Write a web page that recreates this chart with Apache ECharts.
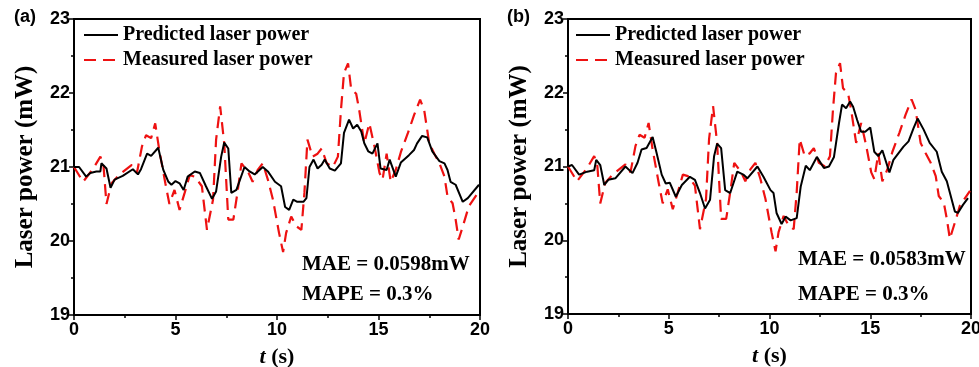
<!DOCTYPE html>
<html><head><meta charset="utf-8">
<script src="https://cdn.jsdelivr.net/npm/echarts@6/dist/echarts.min.js"></script>
<style>html,body{margin:0;padding:0;background:#fff}#c{width:979px;height:367px}</style>
</head><body><div id="c"></div>
<script>
// ---- data ----
var yTicks = [19, 20, 21, 22, 23];
var xTicks = [0, 5, 10, 15, 20];
var measuredT = [0,0.45,0.95,1.3,1.45,1.6,1.85,2.25,2.85,3.1,3.35,3.55,3.8,4.0,4.2,4.5,4.7,4.95,5.2,5.45,5.7,5.95,6.3,6.55,6.85,7.0,7.2,7.4,7.6,7.85,8.05,8.25,8.6,8.8,9.05,9.3,9.55,9.8,10.1,10.3,10.45,10.7,10.95,11.2,11.35,11.5,11.75,12.0,12.2,12.45,12.75,13.0,13.15,13.3,13.5,13.65,13.9,14.05,14.3,14.55,14.8,15.05,15.2,15.4,15.6,15.85,16.1,16.45,16.75,17.05,17.25,17.5,17.75,18.0,18.25,18.4,18.65,18.8,18.95,19.2,19.45,19.95];
var measuredP = [21.0,20.8,20.98,21.14,21.03,20.5,20.78,20.9,21.03,20.92,21.28,21.43,21.39,21.59,21.23,20.78,20.5,20.69,20.42,20.65,20.89,20.87,20.74,20.15,20.56,21.37,21.82,21.32,20.29,20.29,20.65,21.05,20.92,20.8,20.96,21.05,20.83,20.56,20.11,19.85,20.11,20.33,20.2,20.15,20.65,21.37,21.14,21.18,21.25,21.05,21.0,21.14,21.77,22.27,22.4,22.06,21.99,21.77,21.32,21.59,21.28,20.92,20.83,21.18,20.8,20.96,21.2,21.46,21.7,21.91,21.77,21.32,21.18,21.05,20.87,20.6,20.51,20.29,20.02,20.24,20.47,20.67];
var predAT = [0,0.25,0.6,0.8,1.1,1.3,1.35,1.6,1.8,2.0,2.4,2.9,3.15,3.3,3.6,3.8,4.15,4.4,4.65,4.8,5.0,5.2,5.4,5.6,5.95,6.2,6.5,6.8,7.0,7.25,7.4,7.6,7.75,8.0,8.4,8.65,8.9,9.3,9.55,9.9,10.2,10.4,10.6,10.8,11.0,11.3,11.45,11.6,11.8,12.0,12.2,12.35,12.6,12.85,13.15,13.3,13.55,13.75,13.95,14.15,14.3,14.5,14.7,14.95,15.1,15.4,15.55,15.85,16.1,16.5,16.75,16.9,17.15,17.4,17.65,18.0,18.25,18.4,18.55,18.8,19.15,19.4,19.95];
var predAP = [21.0,21.0,20.87,20.92,20.94,20.94,21.05,20.98,20.72,20.83,20.88,20.97,20.9,20.97,21.18,21.15,21.26,20.96,20.8,20.76,20.81,20.78,20.69,20.87,20.94,20.92,20.74,20.57,20.67,21.14,21.33,21.25,20.65,20.69,21.0,20.94,20.9,21.0,20.94,20.8,20.74,20.46,20.42,20.56,20.53,20.53,20.58,21.0,21.1,20.98,21.03,21.1,20.98,20.95,21.05,21.46,21.64,21.52,21.57,21.48,21.32,21.21,21.18,21.32,20.98,20.96,21.1,20.87,21.06,21.16,21.23,21.32,21.42,21.4,21.21,21.08,21.05,20.96,20.8,20.76,20.53,20.58,20.76];
var predBT = [0,0.2,0.55,0.95,1.3,1.4,1.6,1.8,2.0,2.35,2.85,3.2,3.45,3.65,3.9,4.2,4.4,4.65,4.85,5.05,5.35,5.65,6.05,6.3,6.55,6.8,7.05,7.25,7.4,7.6,7.8,8.05,8.4,8.7,8.9,9.4,9.7,10.05,10.2,10.35,10.6,10.8,11.05,11.35,11.55,11.8,12.0,12.35,12.7,12.95,13.2,13.45,13.6,13.8,14.0,14.15,14.35,14.55,14.75,15.0,15.2,15.4,15.6,15.95,16.15,16.65,16.9,17.15,17.35,17.65,17.95,18.3,18.55,18.8,19.2,19.35,19.6,19.85];
var predBP = [21.0,21.02,20.89,20.93,20.95,21.09,21.02,20.75,20.82,20.84,21.0,20.91,21.05,21.23,21.25,21.4,21.18,20.89,20.77,20.78,20.59,20.75,20.86,20.82,20.64,20.43,20.55,21.14,21.31,21.25,20.68,20.64,20.93,20.89,20.84,21.0,20.86,20.68,20.64,20.37,20.22,20.32,20.27,20.3,20.73,21.01,20.95,21.13,20.98,21.0,21.13,21.59,21.84,21.79,21.88,21.81,21.63,21.47,21.47,21.53,21.2,21.14,21.22,20.92,21.09,21.27,21.34,21.52,21.65,21.5,21.32,21.2,20.93,20.8,20.39,20.37,20.48,20.57];
var seriesNames = ['Predicted laser power', 'Measured laser power'];
var panelLabels = ['(a)', '(b)'];
var maeTexts = ['MAE = 0.0598mW', 'MAE = 0.0583mW'];
var mapeTexts = ['MAPE = 0.3%', 'MAPE = 0.3%'];

function zip(t, p){ return t.map(function(v,i){ return [v, p[i]]; }); }

var serif = '"Liberation Serif", "Times New Roman", serif';
var sans = '"Liberation Sans", Arial, sans-serif';
var grids = [
  {left:74, top:19, width:406, height:296},
  {left:568, top:19, width:403, height:295}
];
function xAxis(i){
  return {type:'value', gridIndex:i, min:xTicks[0], max:xTicks[xTicks.length-1], interval:5,
    name:'{i|t} (s)', nameLocation:'middle', nameGap:31,
    nameTextStyle:{fontFamily:serif, fontWeight:'bold', fontSize:22, color:'#000',
      rich:{i:{fontFamily:serif, fontWeight:'bold', fontStyle:'italic', fontSize:22, color:'#000'}}},
    axisLine:{show:true, lineStyle:{color:'#000', width:2}},
    axisTick:{show:true, inside:false, length:5, lineStyle:{color:'#000', width:1.5}},
    minorTick:{show:true, splitNumber:2, length:3, lineStyle:{color:'#000', width:1.5}},
    axisLabel:{fontFamily:sans, fontWeight:'bold', fontSize:18, color:'#000', margin:6},
    splitLine:{show:false}};
}
function yAxis(i){
  return {type:'value', gridIndex:i, min:yTicks[0], max:yTicks[yTicks.length-1], interval:1,
    name:'Laser power (mW)', nameLocation:'middle', nameGap:36, nameRotate:90,
    nameTextStyle:{fontFamily:serif, fontWeight:'bold', fontSize:25, color:'#000'},
    axisLine:{show:true, lineStyle:{color:'#000', width:2}},
    axisTick:{show:true, inside:false, length:5, lineStyle:{color:'#000', width:1.5}},
    minorTick:{show:true, splitNumber:2, length:3, lineStyle:{color:'#000', width:1.5}},
    axisLabel:{fontFamily:sans, fontWeight:'bold', fontSize:18, color:'#000', margin:4},
    splitLine:{show:false}};
}
var predStyle = {color:'#000', width:2, type:'solid'};
var measStyle = {color:'#ee1111', width:2.2, type:[12,7]};
function ser(name, data, gi, style, z){
  return {name:name, type:'line', xAxisIndex:gi, yAxisIndex:gi, data:data, showSymbol:false, symbol:'none',
    lineStyle:style, itemStyle:{color:style.color}, z:z, animation:false};
}
var chart = echarts.init(document.getElementById('c'), null, {renderer:'canvas'});
var texts = [];
[[0,14,302,302,254,284],[1,507,798,798,249,284]].forEach(function(a){
  var i=a[0];
  texts.push({type:'text', left:a[1], top:8, style:{text:panelLabels[i], font:'bold 18px '+sans, fill:'#000'}});
  texts.push({type:'text', left:a[2], top:a[4], style:{text:maeTexts[i], font:'bold 21px '+serif, fill:'#000'}});
  texts.push({type:'text', left:a[3], top:a[5], style:{text:mapeTexts[i], font:'bold 21px '+serif, fill:'#000'}});
});
function legend(left){
  return {left:left, top:20, orient:'vertical', itemWidth:34, itemHeight:14, itemGap:5, data:seriesNames,
    itemStyle:{opacity:0}, textStyle:{fontFamily:serif, fontWeight:'bold', fontSize:20, color:'#000'}};
}
chart.setOption({
  backgroundColor:'#fff',
  animation:false,
  grid:grids.map(function(g){ return Object.assign({show:true, borderColor:'#000', borderWidth:2, backgroundColor:'transparent', containLabel:false, outerBoundsMode:'none'}, g); }),
  xAxis:[xAxis(0), xAxis(1)],
  yAxis:[yAxis(0), yAxis(1)],
  legend:[legend(78), legend(570)],
  graphic:texts,
  series:[
    ser(seriesNames[1], zip(measuredT, measuredP), 0, measStyle, 2),
    ser(seriesNames[0], zip(predAT, predAP), 0, predStyle, 3),
    ser(seriesNames[1], zip(measuredT, measuredP), 1, measStyle, 2),
    ser(seriesNames[0], zip(predBT, predBP), 1, predStyle, 3)
  ]
});
</script></body></html>
